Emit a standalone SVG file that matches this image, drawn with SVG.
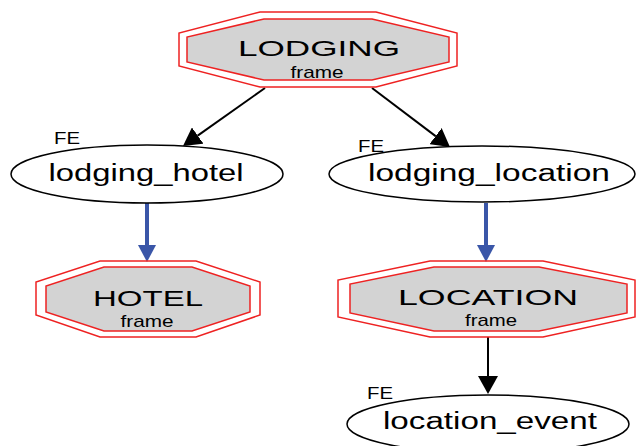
<svg xmlns="http://www.w3.org/2000/svg" width="636" height="446" viewBox="0 0 636 446">
<style>
.oct-out{fill:none;stroke:#ee2222;stroke-width:1.5}
.oct-in{fill:#d3d3d3;stroke:#ee2222;stroke-width:1.5}
.ell{fill:#fff;stroke:#000;stroke-width:1.5}
.big{font-family:"Liberation Sans",Arial,sans-serif;font-size:22px;fill:#000;text-anchor:middle}
.small{font-family:"Liberation Sans",Arial,sans-serif;font-size:17px;fill:#000;text-anchor:middle}
.lbl{font-family:"Liberation Sans",Arial,sans-serif;font-size:23px;fill:#000;text-anchor:middle}
.fe{font-family:"Liberation Sans",Arial,sans-serif;font-size:16px;fill:#000}
.edge{fill:none;stroke:#000;stroke-width:2}
.blue{fill:none;stroke:#3a56a8;stroke-width:4}
</style>
<defs>
<marker id="ah" markerUnits="userSpaceOnUse" viewBox="0 0 18 20" refX="0" refY="10" markerWidth="18" markerHeight="20" orient="auto">
<path d="M0,0 L18,10 L0,20 z" fill="#000"/>
</marker>
<marker id="ahb" markerUnits="userSpaceOnUse" viewBox="0 0 17 18" refX="0" refY="9" markerWidth="17" markerHeight="18" orient="auto">
<path d="M0,0 L17,9 L0,18 z" fill="#3a56a8"/>
</marker>
</defs>
<rect width="636" height="446" fill="#fff"/>
<g id="edges">
<path class="edge" d="M265,88 L197.7,135.6" marker-end="url(#ah)"/>
<path class="edge" d="M372,88 L435.6,136.1" marker-end="url(#ah)"/>
<path class="blue" d="M147,203 L147,245" marker-end="url(#ahb)"/>
<path class="blue" d="M486,203 L486,245" marker-end="url(#ahb)"/>
<path class="edge" d="M488,337 L488,376" marker-end="url(#ah)"/>
</g>
<g id="LODGING">
<polygon class="oct-out" points="260,12 376,12 457,33 457,66 376,87 260,87 179,66 179,33"/>
<polygon class="oct-in" points="264,19 372,19 449,37 449,62 372,80 264,80 187,62 187,37"/>
<text class="big" x="319" y="56" textLength="162" lengthAdjust="spacingAndGlyphs">LODGING</text>
<text class="small" x="317" y="78" textLength="53" lengthAdjust="spacingAndGlyphs">frame</text>
</g>
<g id="lodging_hotel">
<ellipse class="ell" cx="147" cy="174" rx="136" ry="29"/>
<text class="lbl" x="146" y="181" textLength="195" lengthAdjust="spacingAndGlyphs">lodging_hotel</text>
<text class="fe" x="54" y="144" textLength="26" lengthAdjust="spacingAndGlyphs">FE</text>
</g>
<g id="lodging_location">
<ellipse class="ell" cx="482" cy="174" rx="153" ry="28"/>
<text class="lbl" x="489" y="181" textLength="242" lengthAdjust="spacingAndGlyphs">lodging_location</text>
<text class="fe" x="358" y="152" textLength="26" lengthAdjust="spacingAndGlyphs">FE</text>
</g>
<g id="HOTEL">
<polygon class="oct-out" points="100,261 196,261 260,282 260,315 196,337 100,337 36,315 36,282"/>
<polygon class="oct-in" points="104,267 192,267 250,286 250,312 192,331 104,331 46,312 46,286"/>
<text class="big" x="148" y="306" textLength="110" lengthAdjust="spacingAndGlyphs">HOTEL</text>
<text class="small" x="147" y="327" textLength="53" lengthAdjust="spacingAndGlyphs">frame</text>
</g>
<g id="LOCATION">
<polygon class="oct-out" points="430,261 543,261 635,280 635,317 543,337 430,337 338,317 338,280"/>
<polygon class="oct-in" points="434,267 539,267 627,284 627,313 539,331 434,331 350,313 350,284"/>
<text class="big" x="488" y="305" textLength="180" lengthAdjust="spacingAndGlyphs">LOCATION</text>
<text class="small" x="491" y="326" textLength="52" lengthAdjust="spacingAndGlyphs">frame</text>
</g>
<g id="location_event">
<ellipse class="ell" cx="488" cy="424" rx="141" ry="29"/>
<text class="lbl" x="490" y="429" textLength="214" lengthAdjust="spacingAndGlyphs">location_event</text>
<text class="fe" x="367" y="399" textLength="26" lengthAdjust="spacingAndGlyphs">FE</text>
</g>
</svg>
